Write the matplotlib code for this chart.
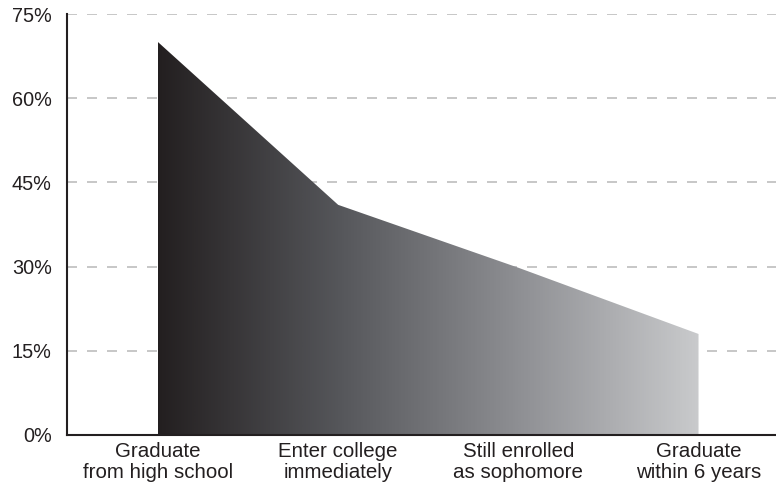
import matplotlib
matplotlib.use("Agg")
import matplotlib.pyplot as plt
import numpy as np
from matplotlib.colors import LinearSegmentedColormap

categories = ["Graduate\nfrom high school", "Enter college\nimmediately",
              "Still enrolled\nas sophomore", "Graduate\nwithin 6 years"]
values = [70, 41, 29.8, 18]
yticks = [0, 15, 30, 45, 60, 75]
ytick_labels = ["0%", "15%", "30%", "45%", "60%", "75%"]

plt.rcParams['font.family'] = ['Liberation Sans', 'DejaVu Sans']

fig = plt.figure(figsize=(7.76, 4.88), dpi=100)
ax = fig.add_axes([67/776, 53/488, 1 - 67/776, (435-14)/488])

x = np.arange(len(categories))
poly = ax.fill_between(x, 0, values, color='none', lw=0)

cmap = LinearSegmentedColormap.from_list("g", ["#231f20", "#55565a", "#8e8f93", "#c9cacc"])
grad = np.linspace(0, 1, 512).reshape(1, -1)
im = ax.imshow(grad, cmap=cmap, aspect='auto', extent=[x[0], x[-1], 0, max(values)],
               origin='lower', zorder=2, interpolation='bilinear')
path = poly.get_paths()[0]
im.set_clip_path(path, transform=ax.transData)

ax.set_xlim(-0.505, 3.43)
ax.set_ylim(0, 75)
ax.set_yticks(yticks)
ax.set_yticklabels(ytick_labels, fontsize=14.3, color='#231f20')
ax.set_xticks(x)
ax.set_xticklabels(categories, fontsize=14.8, color='#231f20', linespacing=1.15)
ax.tick_params(length=0, pad=5)
ax.tick_params(axis='y', pad=11)

for t in yticks[1:]:
    ax.axhline(t, color='#bdbdbd', lw=1.2, ls=(0, (6, 6)), zorder=1)

for s in ['top', 'right']:
    ax.spines[s].set_visible(False)
ax.spines['left'].set_color('#231f20')
ax.spines['bottom'].set_color('#231f20')
ax.spines['left'].set_linewidth(1.5)
ax.spines['bottom'].set_linewidth(1.5)
ax.spines['left'].set_zorder(5)
ax.spines['bottom'].set_zorder(5)

fig.savefig("out.png", dpi=100)
